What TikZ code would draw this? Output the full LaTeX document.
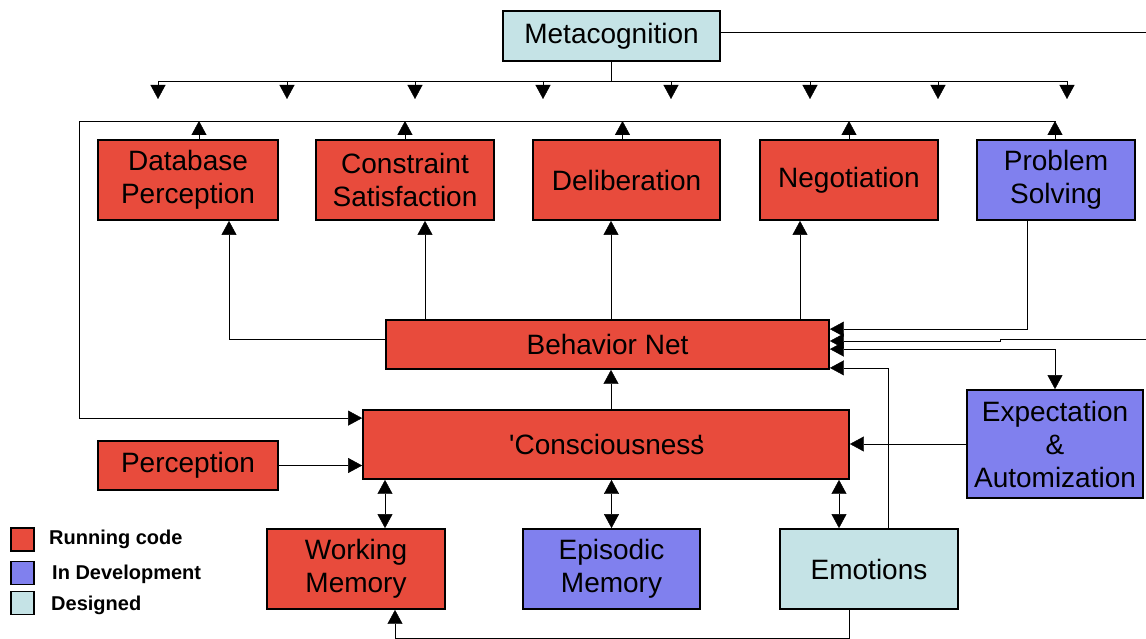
\documentclass[tikz,border=0pt]{standalone}
\usepackage{fontspec}
\setmainfont{Liberation Sans}
\usetikzlibrary{arrows.meta}
\definecolor{runred}{RGB}{232,75,60}
\definecolor{devblue}{RGB}{128,128,238}
\definecolor{dsgcyan}{RGB}{197,227,230}
\tikzset{
  x=1pt, y=-1pt,
  line width=1.8pt,
  box/.style={draw=black, line width=1.8pt, inner sep=0pt, align=center,
    font=\fontsize{28}{33}\selectfont},
  runbox/.style={box, fill=runred},
  devbox/.style={box, fill=devblue},
  dsgbox/.style={box, fill=dsgcyan},
  arr/.style={-{Triangle[width=15pt,length=14pt]}},
  arrtwo/.style={{Triangle[width=15pt,length=14pt]}-{Triangle[width=15pt,length=14pt]}},
  swatch/.style={draw=black, line width=1.8pt, minimum width=23pt, minimum height=23pt, inner sep=0pt},
  legtext/.style={anchor=west, inner sep=0pt, font=\fontsize{20}{24}\selectfont\bfseries}
}
\begin{document}
\begin{tikzpicture}
\useasboundingbox (0,0) rectangle (1146,639);

% boxes
\node[dsgbox, minimum width=217pt, minimum height=50pt] (meta) at (611.5,36) {Metacognition};
\node[runbox, minimum width=180pt, minimum height=80pt] (dbp) at (188,180) {Database\\Perception};
\node[runbox, minimum width=178pt, minimum height=80pt] (csat) at (405,180) {Constraint\\Satisfaction};
\node[runbox, minimum width=187pt, minimum height=80pt] (delib) at (626.5,180) {Deliberation};
\node[runbox, minimum width=178pt, minimum height=80pt] (nego) at (849,180) {Negotiation};
\node[devbox, minimum width=158pt, minimum height=80pt] (probs) at (1056,180) {Problem\\Solving};
\node[runbox, minimum width=443pt, minimum height=49pt] (bnet) at (607.5,344.5) {Behavior Net};
\node[runbox, minimum width=486pt, minimum height=69pt] (consc) at (606,444.5) {\textquotesingle Consciousness\kern-0.25em\textquotesingle};
\node[runbox, minimum width=180pt, minimum height=49pt] (perc) at (188,465.5) {Perception};
\node[devbox, minimum width=176pt, minimum height=108pt] (expa) at (1055,444) {Expectation\\\&\\Automization};
\node[runbox, minimum width=178pt, minimum height=80pt] (wmem) at (356,569) {Working\\Memory};
\node[devbox, minimum width=177pt, minimum height=80pt] (emem) at (611.5,569) {Episodic\\Memory};
\node[dsgbox, minimum width=178pt, minimum height=80pt] (emot) at (869,569) {Emotions};

% free ends of the connectors
\coordinate (mout) at (1146,32);
\coordinate (rin) at (1146,339);
\coordinate (barL) at (158,81);
\coordinate (barR) at (1067,81);
\coordinate (upL) at (79,121);
\coordinate (upR) at (1056,121);

% metacognition distribution bar
\draw ([yshift=4pt]meta.east) -- (mout);
\draw (meta.south) -- (meta.south |- barL);
\draw (barL) -- (barR);
\foreach \xx in {158,287,415,543,671,810,938,1067}
  \draw[arr] (\xx,81) -- (\xx,99);

% collection bar above the upper modules
\draw[arr] (upR) -- (upL) |- ([yshift=-9pt]consc.north west);
\draw[arr] ([xshift=11pt]dbp.north) -- ([xshift=11pt]dbp.north |- upL);
\draw[arr] (csat.north) -- (csat.north |- upL);
\draw[arr] ([xshift=-4pt]delib.north) -- ([xshift=-4pt]delib.north |- upL);
\draw[arr] (nego.north) -- (nego.north |- upL);
\draw[arr] ([xshift=-1pt]probs.north) -- ([xshift=-1pt]probs.north |- upL);

% behavior net to the upper modules
\draw[arr] ([yshift=5pt]bnet.west) -| ([xshift=41pt]dbp.south);
\draw[arr] ([xshift=20pt]csat.south |- bnet.north) -- ([xshift=20pt]csat.south);
\draw[arr] ([xshift=-15.5pt]delib.south |- bnet.north) -- ([xshift=-15.5pt]delib.south);
\draw[arr] ([xshift=-49pt]nego.south |- bnet.north) -- ([xshift=-49pt]nego.south);

% inputs on the right of the behavior net
\draw[arr] ([xshift=-29pt]probs.south) |- ([yshift=-10pt]bnet.north east);
\draw[arr] (rin) -- (1000,339) -- (1000,341) -- (bnet.east |- 0,341);
\draw[arrtwo] ([yshift=-30pt]bnet.north east) -| (expa.north);
\draw[arr] ([xshift=19pt]emot.north) |- ([yshift=2pt]bnet.south east);

% consciousness links
\draw[arr] ([xshift=5pt]consc.north) -- ([xshift=5pt]consc.north |- bnet.south);
\draw[arr] (expa.west) -- (consc.east |- expa.west);
\draw[arr] (perc.east) -- (consc.west |- perc.east);
\draw[arrtwo] ([xshift=29pt]wmem.north |- consc.south) -- ([xshift=29pt]wmem.north);
\draw[arrtwo] (emem.north |- consc.south) -- (emem.north);
\draw[arrtwo] ([xshift=-30pt]emot.north |- consc.south) -- ([xshift=-30pt]emot.north);

% emotions back to working memory
\draw[arr] ([xshift=-20pt]emot.south) -- ++(0,28) -| ([xshift=39pt]wmem.south);

% legend
\node[swatch, fill=runred] (sw1) at (22.5,539.5) {};
\node[swatch, fill=devblue] (sw2) at (22.5,573) {};
\node[swatch, fill=dsgcyan] (sw3) at (22.5,603) {};
\node[legtext] (lg1) at (49,539.5) {Running code};
\node[legtext] (lg2) at (52,574) {In Development};
\node[legtext] (lg3) at (51,605) {Designed};
\end{tikzpicture}
\end{document}
